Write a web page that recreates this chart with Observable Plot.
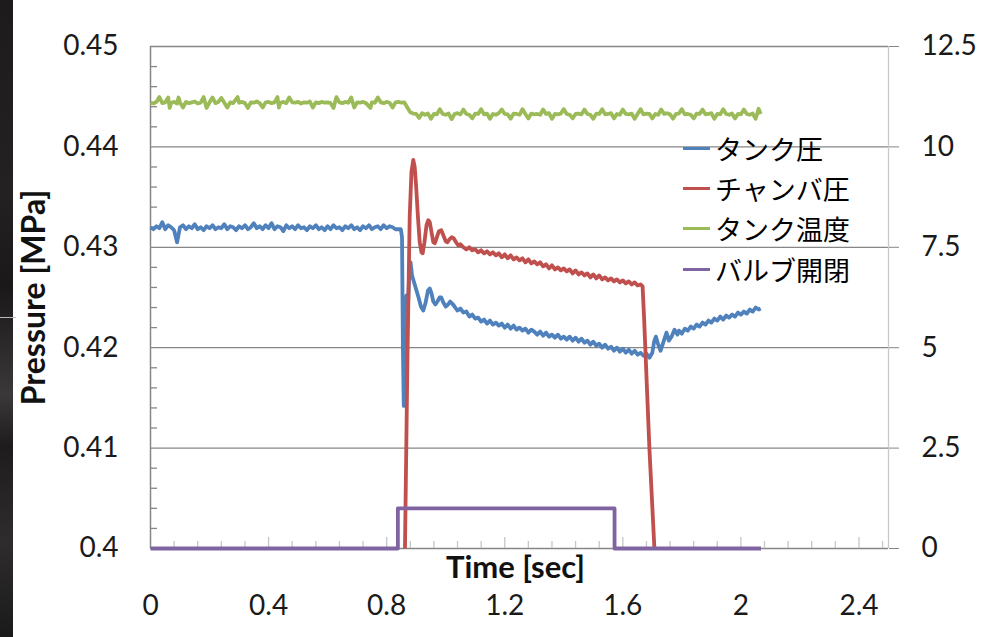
<!DOCTYPE html>
<html><head><meta charset="utf-8">
<script src="https://cdn.jsdelivr.net/npm/d3@7"></script>
<script src="https://cdn.jsdelivr.net/npm/@observablehq/plot@0.6"></script>
<style>
html,body{margin:0;padding:0;background:#fff;}
#wrap{position:relative;width:981px;height:637px;overflow:hidden;background:#fff;}
#strip{position:absolute;left:0;top:0;width:13px;height:637px;
 background:linear-gradient(180deg,#1d1b1c 0%,#242122 30%,#1a1819 45%,#3a3838 62%,#1e1c1d 70%,#2e2c2c 85%,#1b1a1a 100%);}
#stripline{position:absolute;left:0;top:317px;width:16px;height:1px;background:#bdbdbd;}
#legend{position:absolute;left:683px;top:128px;font-family:"Noto Sans CJK JP",sans-serif;font-size:27px;color:#000;}
.row{display:flex;align-items:center;height:40.3px;white-space:nowrap;}
.sw{width:27px;height:3px;margin-right:5px;}
</style></head>
<body><div id="wrap"><div id="chart"></div><div id="strip"></div><div id="stripline"></div><div id="legend"></div></div>
<script>
// ---- axis ticks / labels ----
const xTicks = [0, 0.4, 0.8, 1.2, 1.6, 2.0, 2.4];
const xTickLabels = ["0", "0.4", "0.8", "1.2", "1.6", "2", "2.4"];
const xMinorTicks = [0.08,0.16,0.24,0.32,0.48,0.56,0.64,0.72,0.88,0.96,1.04,1.12,1.28,1.36,1.44,1.52,1.68,1.76,1.84,1.92,2.08,2.16,2.24,2.32,2.48];
const leftTicks = [0.40, 0.41, 0.42, 0.43, 0.44, 0.45];
const leftTickLabels = ["0.4", "0.41", "0.42", "0.43", "0.44", "0.45"];
const rightTickLabels = ["0", "2.5", "5", "7.5", "10", "12.5"];
const leftMinorTicks = [0.402,0.404,0.406,0.408,0.412,0.414,0.416,0.418,0.422,0.424,0.426,0.428,0.432,0.434,0.436,0.438,0.442,0.444,0.446,0.448];
const seriesNames = ["タンク圧", "チャンバ圧", "タンク温度", "バルブ開閉"];
const seriesColors = ["#4F81BD", "#C0504D", "#9BBB59", "#8064A2"];

// ---- series: [time sec, value] ----
// tank pressure (MPa, left axis)
const tankPressure = [
[0.00,0.4320],[0.01,0.4318],[0.02,0.4321],[0.03,0.4319],[0.04,0.4325],[0.05,0.4318],[0.06,0.4322],[0.07,0.4320],[0.08,0.4317],[0.09,0.4305],
[0.10,0.4320],[0.11,0.4322],[0.12,0.4318],[0.13,0.4321],[0.14,0.4319],[0.15,0.4323],[0.16,0.4318],[0.17,0.4320],[0.18,0.4317],[0.19,0.4321],
[0.20,0.4319],[0.21,0.4322],[0.22,0.4318],[0.23,0.4320],[0.24,0.4319],[0.25,0.4323],[0.26,0.4318],[0.27,0.4321],[0.28,0.4320],[0.29,0.4317],
[0.30,0.4321],[0.31,0.4319],[0.32,0.4322],[0.33,0.4318],[0.34,0.4320],[0.35,0.4324],[0.36,0.4319],[0.37,0.4321],[0.38,0.4318],[0.39,0.4322],
[0.40,0.4319],[0.41,0.4324],[0.42,0.4318],[0.43,0.4321],[0.44,0.4320],[0.45,0.4316],[0.46,0.4322],[0.47,0.4319],[0.48,0.4321],[0.49,0.4318],
[0.50,0.4322],[0.51,0.4319],[0.52,0.4320],[0.53,0.4317],[0.54,0.4321],[0.55,0.4319],[0.56,0.4322],[0.57,0.4318],[0.58,0.4320],[0.59,0.4317],
[0.60,0.4321],[0.61,0.4318],[0.62,0.4322],[0.63,0.4319],[0.64,0.4320],[0.65,0.4317],[0.66,0.4321],[0.67,0.4319],[0.68,0.4322],[0.69,0.4318],
[0.70,0.4320],[0.71,0.4317],[0.72,0.4321],[0.73,0.4319],[0.74,0.4322],[0.75,0.4318],[0.76,0.4320],[0.77,0.4321],[0.78,0.4318],[0.79,0.4322],
[0.80,0.4319],[0.81,0.4321],[0.82,0.4320],[0.83,0.4318],[0.84,0.4318],[0.848,0.4318],[0.852,0.4310],[0.855,0.4200],[0.858,0.4142],[0.861,0.4180],
[0.864,0.4245],[0.867,0.4252],[0.872,0.4240],[0.876,0.4270],[0.881,0.4285],[0.886,0.4272],[0.892,0.4266],[0.900,0.4258],[0.908,0.4250],[0.916,0.4241],
[0.924,0.4237],[0.932,0.4245],[0.940,0.4257],[0.946,0.4259],[0.952,0.4254],[0.958,0.4246],[0.965,0.4243],[0.972,0.4246],[0.979,0.4250],[0.985,0.4250],
[0.992,0.4245],[1.000,0.4241],[1.008,0.4243],[1.015,0.4246],[1.022,0.4244],
[1.03,0.4241],[1.04,0.4237],[1.05,0.4239],[1.06,0.4235],[1.07,0.4236],[1.08,0.4231],[1.09,0.4233],[1.10,0.4229],[1.11,0.4230],[1.12,0.4226],
[1.13,0.4228],[1.14,0.4224],[1.15,0.4227],[1.16,0.4223],[1.17,0.4225],[1.18,0.4222],[1.19,0.4224],[1.20,0.4220],[1.21,0.4223],[1.22,0.4219],
[1.23,0.4222],[1.24,0.4218],[1.25,0.4220],[1.26,0.4217],[1.27,0.4219],[1.28,0.4215],[1.29,0.4218],[1.30,0.4216],[1.31,0.4213],[1.32,0.4216],
[1.33,0.4212],[1.34,0.4215],[1.35,0.4211],[1.36,0.4213],[1.37,0.4210],[1.38,0.4213],[1.39,0.4209],[1.40,0.4211],[1.41,0.4208],[1.42,0.4211],
[1.43,0.4207],[1.44,0.4210],[1.45,0.4206],[1.46,0.4209],[1.47,0.4205],[1.48,0.4207],[1.49,0.4203],[1.50,0.4206],[1.51,0.4202],[1.52,0.4204],
[1.53,0.4200],[1.54,0.4203],[1.55,0.4199],[1.56,0.4201],[1.57,0.4197],[1.58,0.4200],[1.59,0.4196],[1.60,0.4199],[1.61,0.4195],[1.62,0.4198],
[1.63,0.4194],[1.64,0.4197],[1.65,0.4193],[1.66,0.4195],[1.67,0.4192],[1.68,0.4194],[1.69,0.4190],
[1.70,0.4195],[1.706,0.4206],[1.712,0.4211],[1.72,0.4203],[1.728,0.4197],[1.738,0.4206],[1.748,0.4215],[1.756,0.4207],[1.765,0.4211],[1.775,0.4218],
[1.785,0.4213],[1.79,0.4217],[1.80,0.4214],[1.81,0.4219],[1.82,0.4217],[1.83,0.4221],[1.84,0.4219],[1.85,0.4223],[1.86,0.4221],[1.87,0.4225],
[1.88,0.4223],[1.89,0.4227],[1.90,0.4225],[1.91,0.4229],[1.92,0.4227],[1.93,0.4231],[1.94,0.4228],[1.95,0.4232],[1.96,0.4230],[1.97,0.4233],
[1.98,0.4231],[1.99,0.4235],[2.00,0.4233],[2.01,0.4236],[2.02,0.4234],[2.03,0.4238],[2.04,0.4236],[2.05,0.4240],[2.06,0.4238],[2.067,0.4239]
];

// chamber pressure (MPa, left axis)
const chamberPressure = [
[0.862,0.4000],[0.870,0.4180],[0.878,0.4330],[0.884,0.4375],[0.890,0.4387],[0.895,0.4380],[0.900,0.4360],[0.906,0.4330],[0.912,0.4305],[0.918,0.4295],
[0.922,0.4294],[0.928,0.4305],[0.935,0.4322],[0.941,0.4327],[0.946,0.4325],[0.952,0.4315],[0.958,0.4305],[0.963,0.4304],[0.970,0.4310],[0.977,0.4316],
[0.985,0.4317],[0.992,0.4312],[1.000,0.4306],[1.006,0.4305],[1.013,0.4308],[1.020,0.4310],[1.027,0.4309],[1.035,0.4305],[1.042,0.4302],[1.05,0.4303],
[1.06,0.4300],[1.07,0.4298],[1.08,0.4300],[1.09,0.4297],[1.10,0.4298],[1.11,0.4295],[1.12,0.4297],[1.13,0.4294],[1.14,0.4296],[1.15,0.4293],
[1.16,0.4295],[1.17,0.4292],[1.18,0.4294],[1.19,0.4290],[1.20,0.4293],[1.21,0.4289],[1.22,0.4292],[1.23,0.4288],[1.24,0.4290],[1.25,0.4287],
[1.26,0.4289],[1.27,0.4285],[1.28,0.4288],[1.29,0.4284],[1.30,0.4286],[1.31,0.4283],[1.32,0.4285],[1.33,0.4281],[1.34,0.4283],[1.35,0.4279],
[1.36,0.4282],[1.37,0.4278],[1.38,0.4280],[1.39,0.4277],[1.40,0.4279],[1.41,0.4276],[1.42,0.4278],[1.43,0.4274],[1.44,0.4277],[1.45,0.4273],
[1.46,0.4275],[1.47,0.4272],[1.48,0.4274],[1.49,0.4270],[1.50,0.4273],[1.51,0.4269],[1.52,0.4272],[1.53,0.4268],[1.54,0.4270],[1.55,0.4267],
[1.56,0.4269],[1.57,0.4266],[1.58,0.4268],[1.59,0.4265],[1.60,0.4267],[1.61,0.4264],[1.62,0.4266],[1.63,0.4263],[1.64,0.4265],[1.65,0.4262],
[1.66,0.4263],[1.667,0.4261],[1.672,0.4230],[1.690,0.4100],[1.707,0.4000]
];

// tank temperature (right-axis units)
const tankTemperature = [
[0.00,11.10],[0.01,11.08],[0.02,11.12],[0.03,11.24],[0.04,11.09],[0.05,11.11],[0.06,11.23],[0.065,10.97],[0.07,11.10],[0.08,11.12],
[0.09,11.08],[0.095,11.23],[0.10,11.11],[0.11,10.98],[0.12,11.12],[0.13,11.09],[0.14,11.11],[0.15,11.13],[0.16,11.08],[0.17,11.10],
[0.18,11.24],[0.19,10.97],[0.20,11.11],[0.21,11.23],[0.22,11.09],[0.23,11.12],[0.24,11.22],[0.25,11.10],[0.26,10.98],[0.27,11.11],
[0.28,11.09],[0.295,11.24],[0.30,11.10],[0.31,11.12],[0.32,11.09],[0.33,10.97],[0.34,11.11],[0.35,11.10],[0.36,11.13],[0.37,11.09],
[0.38,10.98],[0.39,11.11],[0.40,11.12],[0.41,11.09],[0.42,11.11],[0.43,11.24],[0.435,10.98],[0.44,11.10],[0.45,11.12],[0.46,11.09],
[0.47,11.23],[0.48,11.11],[0.49,11.10],[0.50,11.12],[0.51,11.08],[0.52,11.11],[0.53,11.10],[0.54,11.13],[0.55,10.98],[0.56,11.11],
[0.57,11.09],[0.58,11.12],[0.59,11.10],[0.60,11.11],[0.61,11.09],[0.62,10.97],[0.63,11.24],[0.64,11.11],[0.65,11.09],[0.66,11.12],
[0.67,11.10],[0.68,11.23],[0.69,10.98],[0.70,11.11],[0.71,11.10],[0.72,11.12],[0.73,11.09],[0.745,10.97],[0.75,11.11],[0.76,11.10],
[0.77,11.23],[0.78,11.11],[0.79,11.09],[0.80,11.12],[0.81,11.10],[0.82,10.98],[0.83,11.11],[0.84,11.12],[0.85,11.10],[0.86,11.11],
[0.87,10.98],[0.88,10.86],[0.89,10.83],
[0.90,10.82],[0.91,10.72],[0.92,10.84],[0.93,10.80],[0.94,10.83],[0.95,10.70],[0.96,10.82],[0.97,10.81],[0.98,10.94],[0.99,10.82],
[1.00,10.80],[1.01,10.83],[1.02,10.69],[1.03,10.82],[1.04,10.84],[1.05,10.81],[1.06,10.93],[1.07,10.82],[1.08,10.80],[1.09,10.71],
[1.10,10.83],[1.11,10.82],[1.12,10.94],[1.13,10.81],[1.14,10.83],[1.15,10.70],[1.16,10.82],[1.17,10.80],[1.18,10.84],[1.19,10.93],
[1.20,10.82],[1.21,10.81],[1.22,10.70],[1.23,10.83],[1.24,10.82],[1.25,10.80],[1.26,10.94],[1.27,10.82],[1.28,10.71],[1.29,10.83],
[1.30,10.81],[1.31,10.82],[1.32,10.80],[1.33,10.93],[1.34,10.82],[1.35,10.84],[1.36,10.70],[1.37,10.82],[1.38,10.81],[1.39,10.83],
[1.40,10.94],[1.41,10.82],[1.42,10.80],[1.43,10.71],[1.44,10.82],[1.45,10.83],[1.46,10.81],[1.47,10.93],[1.48,10.82],[1.49,10.80],
[1.50,10.70],[1.51,10.83],[1.52,10.82],[1.53,10.94],[1.54,10.81],[1.55,10.82],[1.56,10.84],[1.57,10.71],[1.58,10.82],[1.59,10.80],
[1.60,10.93],[1.61,10.82],[1.62,10.81],[1.63,10.83],[1.64,10.70],[1.65,10.82],[1.66,10.94],[1.67,10.81],[1.68,10.83],[1.69,10.82],
[1.70,10.71],[1.71,10.82],[1.72,10.80],[1.73,10.93],[1.74,10.82],[1.75,10.84],[1.76,10.81],[1.77,10.70],[1.78,10.82],[1.79,10.83],
[1.80,10.94],[1.81,10.81],[1.82,10.82],[1.83,10.80],[1.84,10.71],[1.85,10.83],[1.86,10.82],[1.87,10.93],[1.88,10.81],[1.89,10.82],
[1.90,10.84],[1.91,10.70],[1.92,10.82],[1.93,10.81],[1.94,10.94],[1.95,10.82],[1.96,10.80],[1.97,10.83],[1.98,10.71],[1.99,10.82],
[2.00,10.81],[2.01,10.93],[2.02,10.82],[2.03,10.80],[2.04,10.83],[2.05,10.70],[2.06,10.95],[2.067,10.82]
];

// valve open/close (right-axis units)
const valveState = [[0,0],[0.838,0],[0.838,1],[1.572,1],[1.572,0],[2.068,0]];

// right axis (0–12.5) shares the frame with left axis (0.40–0.45)
const rightToLeft = v => 0.4 + v / 250;

const lineOpts = {strokeWidth: 3.8, strokeLinejoin: "round", strokeLinecap: "butt"};

const chart = Plot.plot({
  width: 981, height: 637,
  marginLeft: 150, marginRight: 93, marginTop: 46, marginBottom: 89,
  x: {domain: [0, 2.5]},
  y: {domain: [0.4, 0.45]},
  style: {background: "#fff", fontFamily: "Lato, 'Open Sans', sans-serif", fontSize: "28px", color: "#111"},
  marks: [
    Plot.ruleY(leftTicks.slice(1), {stroke: "#868686", strokeWidth: 1.3}),
    Plot.ruleY([0.4], {stroke: "#868686", strokeWidth: 1.3}),
    Plot.ruleX([0], {stroke: "#868686", strokeWidth: 1.5}),
    Plot.ruleX([2.5], {stroke: "#c9c9c9", strokeWidth: 1.3}),
    Plot.tickX(xMinorTicks, {x: d => d, stroke: "#c6c6c6", strokeWidth: 1.3, insetTop: 495}),
    Plot.tickX(xTicks.slice(1), {x: d => d, stroke: "#c6c6c6", strokeWidth: 1.3, insetTop: 491}),
    Plot.tickY(leftMinorTicks, {y: d => d, stroke: "#868686", strokeWidth: 1.3, insetRight: 731}),
    Plot.axisY({anchor: "left", ticks: leftTicks, tickFormat: (d, i) => leftTickLabels[i], tickSize: 0, tickPadding: 32, fontSize: 28, fill: "#1a1a1a"}),
    Plot.axisY({anchor: "right", ticks: leftTicks, tickFormat: (d, i) => rightTickLabels[i], tickSize: 10, tickPadding: 23, stroke: "#868686", fontSize: 28, fill: "#1a1a1a"}),
    Plot.axisX({ticks: xTicks, tickFormat: (d, i) => xTickLabels[i], tickSize: 0, tickPadding: 47, fontSize: 28, fill: "#1a1a1a"}),
    Plot.text(["Pressure [MPa]"], {frameAnchor: "left", textAnchor: "middle", dx: -116, rotate: -90, fontWeight: "bold", fontSize: 32, fill: "#111"}),
    Plot.text(["Time [sec]"], {frameAnchor: "bottom", dx: -4, dy: 29, fontWeight: "bold", fontSize: 31, fill: "#111"}),
    Plot.line(tankPressure, {x: d => d[0], y: d => d[1], stroke: seriesColors[0], ...lineOpts}),
    Plot.line(chamberPressure, {x: d => d[0], y: d => d[1], stroke: seriesColors[1], ...lineOpts}),
    Plot.line(tankTemperature, {x: d => d[0], y: d => rightToLeft(d[1]), stroke: seriesColors[2], ...lineOpts}),
    Plot.line(valveState, {x: d => d[0], y: d => rightToLeft(d[1]), stroke: seriesColors[3], ...lineOpts})
  ]
});
document.getElementById("chart").appendChild(chart);

const legend = document.getElementById("legend");
seriesNames.forEach((name, i) => {
  const row = document.createElement("div");
  row.className = "row";
  const sw = document.createElement("div");
  sw.className = "sw";
  sw.style.background = seriesColors[i];
  const label = document.createElement("span");
  label.textContent = name;
  row.appendChild(sw); row.appendChild(label);
  legend.appendChild(row);
});
</script></body></html>
